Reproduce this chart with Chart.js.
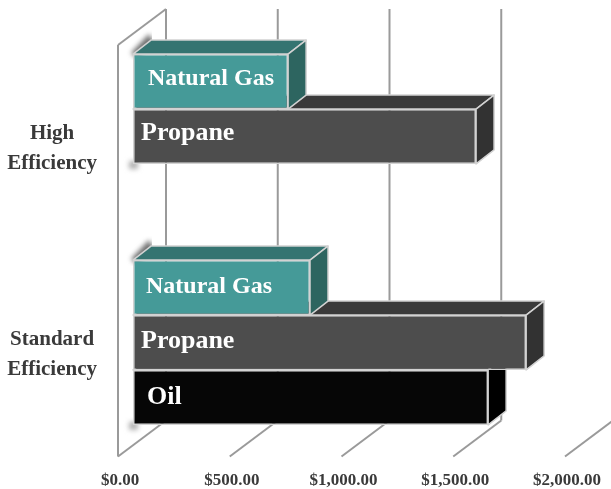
<!DOCTYPE html>
<html lang="en">
<head>
    <meta charset="UTF-8">
    <title>Heating cost by efficiency</title>
    <style>
        body { margin: 0; background: #fff; }
        canvas { display: block; }
    </style>
</head>
<body>
    <canvas id="chart" width="611" height="489"></canvas>
    <script src="https://cdn.jsdelivr.net/npm/chart.js"></script>
    <script>
        const categories = [['High', 'Efficiency'], ['Standard', 'Efficiency']];
        const seriesNames = ['Natural Gas', 'Propane', 'Oil'];
        const naturalGas = [694, 792];
        const propane = [1535, 1759];
        const oil = [null, 1589];
        const tickValues = [0, 500, 1000, 1500, 2000];

        const frontColors = ['#459a98', '#4d4d4d', '#060606'];
        const topColors = ['#357471', '#3a3a3a', '#050505'];
        const sideColors = ['#2d6560', '#323232', '#000000'];
        const labelInsets = [[15, 13], [8, 8], [14, 14]];
        const labelNudges = [[-3, -1], [-3, -1], [0, 0]];
        const labelSizes = [24, 26, 26];

        // 3d look: bar depth and the offsets of the wall planes
        const barDepth = [18, -14];
        const wallDepth = [48, -36];
        const floorShift = [-15, 11];
        const edgeColor = '#d2d2d2';

        function poly(ctx, pts, fill, stroke) {
            ctx.beginPath();
            pts.forEach((p, i) => i ? ctx.lineTo(p[0], p[1]) : ctx.moveTo(p[0], p[1]));
            ctx.closePath();
            ctx.fillStyle = fill;
            ctx.fill();
            if (stroke) {
                ctx.strokeStyle = stroke;
                ctx.lineWidth = 1.5;
                ctx.lineJoin = 'round';
                ctx.stroke();
            }
        }

        function line(ctx, x1, y1, x2, y2) {
            ctx.beginPath();
            ctx.moveTo(x1, y1);
            ctx.lineTo(x2, y2);
            ctx.stroke();
        }

        const depthPlugin = {
            id: 'depth',
            beforeDatasetsDraw(chart) {
                const ctx = chart.ctx;
                const x = chart.scales.x;
                const bottom = chart.chartArea.bottom + floorShift[1];
                const top = 45;
                const dx = wallDepth[0], dy = wallDepth[1];

                // walls and floor
                ctx.save();
                ctx.strokeStyle = '#9a9a9a';
                ctx.lineWidth = 2;
                tickValues.forEach(v => {
                    const px = x.getPixelForValue(v) + floorShift[0];
                    line(ctx, px, bottom, px + dx, bottom + dy);
                    line(ctx, px + dx, top + dy, px + dx, bottom + dy);
                });
                const x0 = x.getPixelForValue(0) + floorShift[0];
                line(ctx, x0, bottom, x0, top);
                line(ctx, x0, top, x0 + dx, top + dy);
                ctx.restore();

                // side faces, lowest bar first so upper ones overlap
                for (let d = chart.data.datasets.length - 1; d >= 0; d--) {
                    chart.getDatasetMeta(d).data.forEach((bar, i) => {
                        if (chart.data.datasets[d].data[i] == null) return;
                        const h = bar.height / 2;
                        const b = bar.base, r = bar.x, t = bar.y - h, u = bar.y + h;
                        const ox = barDepth[0], oy = barDepth[1];

                        // soft shadow on the top left edge of a group
                        if (d == 0) {
                            ctx.save();
                            ctx.beginPath();
                            ctx.rect(b - 10, t + oy - 10, ox + 11, 30);
                            ctx.clip();
                            ctx.filter = 'blur(2.5px)';
                            poly(ctx, [[b - 2, t - 1], [b + ox - 2, t + oy - 6], [b + ox + 4, t + oy + 4], [b + 4, t + 4]], '#6e6e6e');
                            ctx.restore();
                        }
                        // and under the lowest bar of a group
                        const next = chart.data.datasets[d + 1];
                        if (!next || next.data[i] == null) {
                            ctx.save();
                            ctx.filter = 'blur(2.5px)';
                            ctx.fillStyle = '#b0b0b0';
                            ctx.fillRect(b - 4, u - 3, 9, 8);
                            ctx.restore();
                        }

                        poly(ctx, [[b, t], [b + ox, t + oy], [r + ox, t + oy], [r, t]], topColors[d], edgeColor);
                        poly(ctx, [[r, t], [r + ox, t + oy], [r + ox, u + oy], [r, u]], sideColors[d], edgeColor);
                    });
                }
            },
            afterDatasetsDraw(chart) {
                const ctx = chart.ctx;
                ctx.save();
                ctx.fillStyle = '#ffffff';
                ctx.textBaseline = 'middle';
                ctx.textAlign = 'left';
                seriesNames.forEach((name, d) => {
                    ctx.font = 'bold ' + labelSizes[d] + 'px "Liberation Serif"';
                    chart.getDatasetMeta(d).data.forEach((bar, i) => {
                        if (chart.data.datasets[d].data[i] == null) return;
                        ctx.fillText(name, bar.base + labelInsets[d][i], bar.y + labelNudges[d][i]);
                    });
                });
                ctx.restore();
            }
        };

        const values = [naturalGas, propane, oil];

        new Chart(document.getElementById('chart'), {
            type: 'bar',
            data: {
                labels: categories,
                datasets: seriesNames.map((name, d) => ({
                    label: name,
                    data: values[d],
                    backgroundColor: frontColors[d],
                    borderColor: edgeColor,
                    borderWidth: 1.5,
                    borderSkipped: false,
                    barPercentage: 1,
                    categoryPercentage: 0.8
                }))
            },
            options: {
                indexAxis: 'y',
                responsive: false,
                animation: false,
                layout: { padding: { left: 0, right: 31, top: 33.5, bottom: 0 } },
                plugins: { legend: { display: false }, tooltip: { enabled: false } },
                scales: {
                    x: {
                        min: 0,
                        max: 2000,
                        afterBuildTicks: axis => { axis.ticks = tickValues.map(v => ({ value: v })); },
                        afterFit: axis => { axis.height = 43.5; axis.paddingLeft = 0; axis.paddingRight = 0; },
                        grid: { display: false, drawTicks: false },
                        border: { display: false },
                        ticks: {
                            callback: v => '$' + v.toLocaleString('en-US', { minimumFractionDigits: 2 }),
                            maxRotation: 0,
                            autoSkip: false,
                            labelOffset: -13,
                            padding: 24.5,
                            color: '#3a3a3a',
                            font: { family: '"Liberation Serif"', weight: 'bold', size: 17 }
                        }
                    },
                    y: {
                        afterFit: axis => { axis.width = 133; axis.paddingTop = 0; axis.paddingBottom = 0; },
                        grid: { display: false, drawTicks: false },
                        border: { display: false },
                        ticks: {
                            crossAlign: 'center',
                            padding: 36,
                            labelOffset: 12,
                            color: '#3a3a3a',
                            font: { family: '"Liberation Serif"', weight: 'bold', size: 21, lineHeight: 1.43 }
                        }
                    }
                }
            },
            plugins: [depthPlugin]
        });
    </script>
</body>
</html>
